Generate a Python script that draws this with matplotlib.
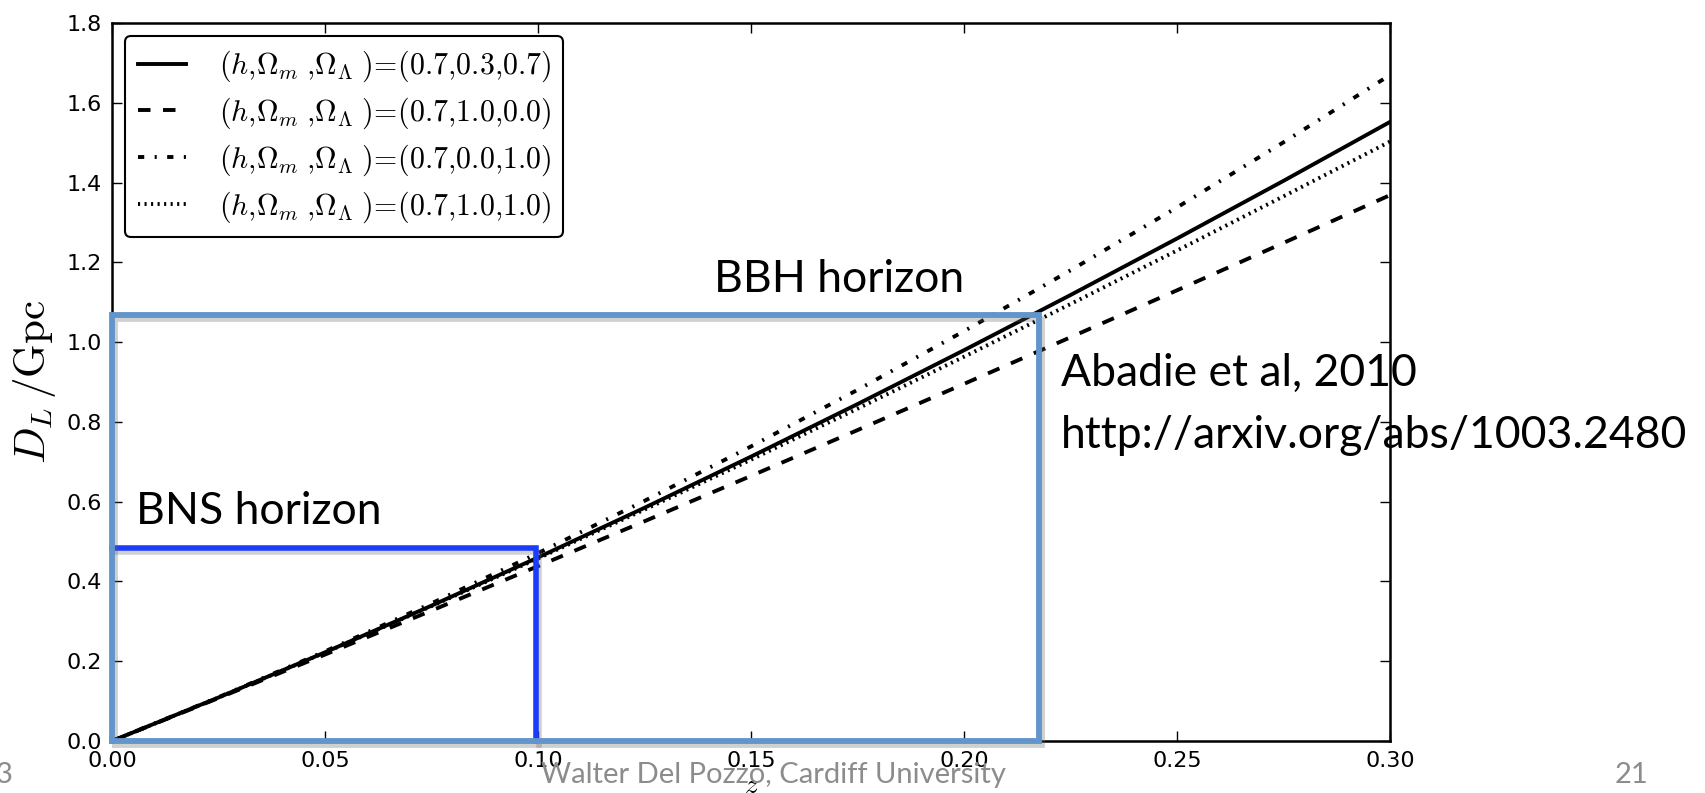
import matplotlib
matplotlib.use('Agg')
import matplotlib.pyplot as plt
import matplotlib.patheffects as pe

plt.rcParams['mathtext.fontset'] = 'cm'
plt.rcParams['lines.scale_dashes'] = False

# luminosity distance (Gpc) vs redshift for four cosmologies
z = [0.0, 0.025, 0.05, 0.075, 0.1, 0.125, 0.15, 0.175, 0.2, 0.225, 0.25, 0.275, 0.3]
dl_lcdm = [0.0, 0.1091, 0.2223, 0.3394, 0.4603, 0.5849, 0.7132, 0.8449, 0.9801, 1.1185, 1.2602, 1.4049, 1.5527]
dl_eds = [0.0, 0.1077, 0.2168, 0.3270, 0.4385, 0.5511, 0.6648, 0.7797, 0.8956, 1.0125, 1.1303, 1.2492, 1.3690]
dl_desitter = [0.0, 0.1098, 0.2248, 0.3453, 0.4711, 0.6023, 0.7388, 0.8806, 1.0279, 1.1804, 1.3383, 1.5016, 1.6703]
dl_closed = [0.0, 0.1090, 0.2218, 0.3381, 0.4577, 0.5803, 0.7056, 0.8335, 0.9637, 1.0959, 1.2301, 1.3660, 1.5034]

labels = [r'$(h{,}\Omega_m\;{,}\Omega_\Lambda\;)\!=\!(0.7{,}0.3{,}0.7)$',
          r'$(h{,}\Omega_m\;{,}\Omega_\Lambda\;)\!=\!(0.7{,}1.0{,}0.0)$',
          r'$(h{,}\Omega_m\;{,}\Omega_\Lambda\;)\!=\!(0.7{,}0.0{,}1.0)$',
          r'$(h{,}\Omega_m\;{,}\Omega_\Lambda\;)\!=\!(0.7{,}1.0{,}1.0)$']
dashes = [None, (0, (9, 9)), (0, (4.5, 7.5, 1.5, 7.5)), (0, (1.5, 3.2))]

# detection horizons (z, D_L)
bbh_z, bbh_d = 0.2176, 1.068
bns_z, bns_d = 0.0995, 0.485

W, H = 1706, 793
fig = plt.figure(figsize=(W / 100, H / 100), dpi=100)
ax = fig.add_axes([112 / W, 1 - 741 / H, (1390.5 - 112) / W, (741 - 23) / H])

for d, ls, lab in zip([dl_lcdm, dl_eds, dl_desitter, dl_closed], dashes, labels):
    ax.plot(z, d, linestyle='-' if ls is None else ls, color='black', lw=2.8, label=lab)

ax.set_xlim(0, 0.3)
ax.set_ylim(0, 1.8)
ax.set_xticks([0, 0.05, 0.1, 0.15, 0.2, 0.25, 0.3])
ax.set_xticklabels(['0.00', '0.05', '0.10', '0.15', '0.20', '0.25', '0.30'])
ax.set_yticks([0, 0.2, 0.4, 0.6, 0.8, 1.0, 1.2, 1.4, 1.6, 1.8])
ax.tick_params(direction='in', top=True, right=True, length=7, width=1, labelsize=16, pad=7)
for s in ax.spines.values():
    s.set_linewidth(1.8)
ax.set_xlabel(r'$z$', fontsize=20, labelpad=0)
ax.set_ylabel(r'$D_L\,/\mathrm{Gpc}$', fontsize=31, labelpad=6)

leg = ax.legend(loc='upper left', fontsize=21.5, handlelength=1.62, borderpad=0.42,
                labelspacing=0.38, handletextpad=1.08, fancybox=True, borderaxespad=0.45)
leg.get_frame().set_edgecolor('black')
leg.get_frame().set_linewidth(1.5)
leg.get_frame().set_alpha(1)

shadow = [pe.SimpleLineShadow(offset=(2, -3), shadow_color='#666666', alpha=0.3),
          pe.Normal()]

ax.plot([0, bns_z, bns_z], [bns_d, bns_d, 0], color='#1a3dfa', lw=4,
        clip_on=False, zorder=5, solid_joinstyle='miter', path_effects=shadow)
ax.plot([0, 0, bbh_z, bbh_z, 0], [0, bbh_d, bbh_d, 0, 0], color='#6394cb', lw=4.2,
        clip_on=False, zorder=6, solid_joinstyle='miter', path_effects=shadow)

fnt = 'Lato'
fig.text(839 / W, 1 - 279 / H, 'BBH horizon', fontsize=32, family=fnt, ha='center', va='center')
fig.text(136 / W, 1 - 511 / H, 'BNS horizon', fontsize=32, family=fnt, ha='left', va='center')
fig.text(1061 / W, 1 - 373 / H, 'Abadie et al, 2010', fontsize=32, family=fnt, ha='left', va='center')
fig.text(1061 / W, 1 - 435 / H, 'http://arxiv.org/abs/1003.2480', fontsize=32, family=fnt,
         ha='left', va='center')

fig.text(773 / W, 1 - 775 / H, 'Walter Del Pozzo, Cardiff University', fontsize=21,
         family=fnt, color='#8c8c8c', ha='center', va='center')
fig.text(1632 / W, 1 - 775 / H, '21', fontsize=21, family=fnt, color='#8c8c8c',
         ha='center', va='center')
fig.text(-4 / W, 1 - 775 / H, '3', fontsize=21, family=fnt, color='#8c8c8c',
         ha='left', va='center')

fig.savefig('out.png', dpi=100)
